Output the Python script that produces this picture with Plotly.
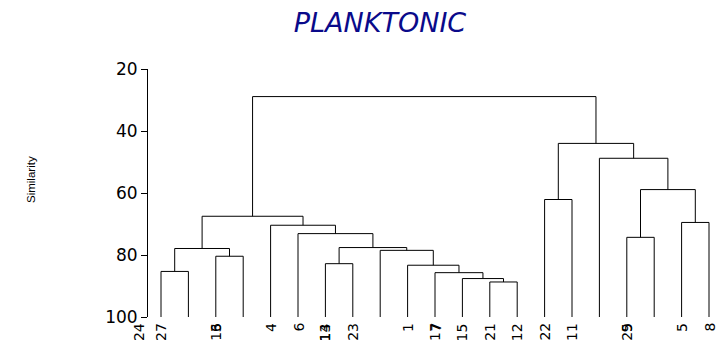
import plotly.graph_objects as go

# ---- data ----
n_leaves = 21
leaf_height = 100
# merges: (left child, right child, similarity); children < 21 are leaves, else cluster ids 21..
merge_left = [0, 2, 21, 6, 12, 11, 10, 9, 8, 24, 5, 4, 23, 14, 17, 19, 35, 16, 34, 33]
merge_right = [1, 3, 22, 7, 13, 25, 26, 27, 28, 29, 30, 31, 32, 15, 18, 20, 36, 37, 38, 39]
merge_sim = [85.3, 80.4, 77.9, 82.8, 88.7, 87.6, 85.7, 83.3, 78.5, 77.6,
             73.1, 70.4, 67.5, 62.1, 74.3, 69.5, 58.9, 48.8, 44.0, 28.9]

label_pos = [-0.8, 0, 2, 2, 4, 5, 6, 6, 7, 9, 10, 10, 11, 12, 13, 14, 15, 17, 17, 19, 20]
label_text = ["24", "27", "3", "16", "4", "6", "13", "14", "23", "1", "7", "17",
              "15", "21", "12", "22", "11", "9", "25", "5", "8"]

y_ticks = [20, 40, 60, 80, 100]

# ---- build dendrogram segments ----
node_x = list(range(n_leaves))
node_h = [leaf_height] * n_leaves
xs, ys = [], []
for a, b, h in zip(merge_left, merge_right, merge_sim):
    xa, ha = node_x[a], node_h[a]
    xb, hb = node_x[b], node_h[b]
    xs += [xa, xa, xb, xb, None]
    ys += [ha, h, h, hb, None]
    node_x.append((xa + xb) / 2)
    node_h.append(h)

fig = go.Figure()
fig.add_trace(go.Scatter(x=xs, y=ys, mode="lines",
                         line=dict(color="black", width=1),
                         hoverinfo="skip", showlegend=False))

W, H = 718, 341
ml, mr, mt, mb = 148, 0, 69, 24
px_per_leaf = 27.4
x0 = -(161 - ml) / px_per_leaf
x1 = x0 + (W - ml - mr) / px_per_leaf

for p, t in zip(label_pos, label_text):
    fig.add_annotation(x=(p - x0) / (x1 - x0), y=0, xref="paper", yref="paper", text=t,
                       textangle=-90, showarrow=False,
                       xanchor="center", yanchor="top", yshift=-4,
                       font=dict(family="DejaVu Sans", size=14, color="black"))

fig.add_annotation(x=(31 - ml) / (W - ml - mr), y=(H - mb - 180) / (H - mt - mb),
                   xref="paper", yref="paper", text="Similarity",
                   textangle=-90, showarrow=False, xanchor="center", yanchor="middle",
                   font=dict(family="Liberation Sans", size=11.5, color="black"))

fig.update_layout(
    width=W, height=H,
    margin=dict(l=ml, r=mr, t=mt, b=mb),
    paper_bgcolor="white", plot_bgcolor="white",
    title=dict(text="PLANKTONIC", x=380 / W, xref="container", xanchor="center",
               y=1 - 22.5 / H, yref="container", yanchor="middle",
               font=dict(family="DejaVu Sans", size=27, color="#0a0a8a", style="italic")),
    xaxis=dict(range=[x0, x1], showgrid=False, zeroline=False, showline=False,
               showticklabels=False, ticks=""),
    yaxis=dict(range=[100, 20], tickvals=y_ticks, ticks="outside", ticklen=6,
               tickcolor="black", showline=True, linecolor="black", linewidth=1,
               showgrid=False, zeroline=False,
               tickfont=dict(family="DejaVu Sans", size=17, color="black")),
)

fig.write_html("out.html")
